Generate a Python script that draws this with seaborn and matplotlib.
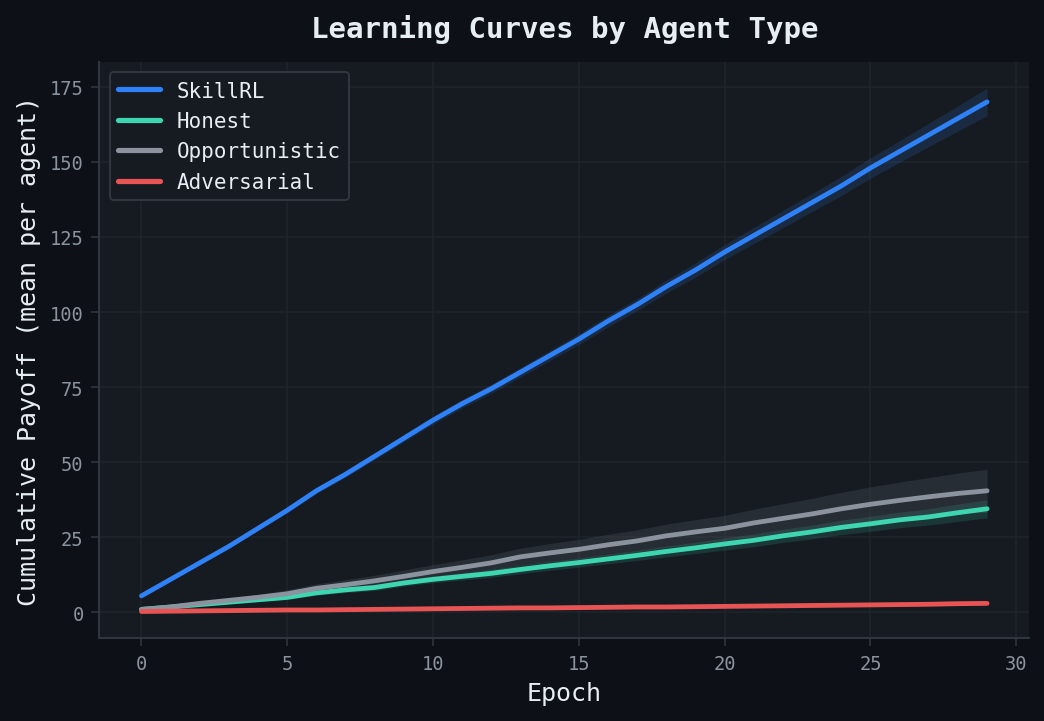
import numpy as np
import pandas as pd
import matplotlib
matplotlib.use("Agg")
import matplotlib.pyplot as plt
import seaborn as sns

# данные
epochs = list(range(30))

skillrl = [5.5, 11, 16.5, 22, 28, 34, 40.5, 46, 52, 58,
           64, 69.5, 74.5, 80, 85.5, 91, 97, 102.5, 108.5, 114,
           120, 125.5, 131, 136.5, 142, 148, 153.5, 159, 164.5, 170]
honest = [1, 1.8, 2.6, 3.4, 4.2, 5, 6.5, 7.5, 8.3, 9.8,
          11, 12, 13, 14.3, 15.5, 16.6, 17.8, 19, 20.3, 21.5,
          22.8, 24, 25.5, 26.8, 28.3, 29.5, 30.8, 31.8, 33.2, 34.5]
opportunistic = [1, 1.8, 3, 4, 5, 6.2, 8, 9.2, 10.5, 12,
                 13.6, 15, 16.5, 18.5, 19.8, 21, 22.5, 23.8, 25.5, 26.8,
                 28, 29.8, 31.3, 32.8, 34.5, 36, 37.3, 38.5, 39.6, 40.5]
adversarial = [0.3, 0.4, 0.5, 0.6, 0.7, 0.8, 0.8, 0.9, 1.0, 1.1,
               1.2, 1.3, 1.4, 1.5, 1.5, 1.6, 1.7, 1.8, 1.8, 1.9,
               2.0, 2.1, 2.2, 2.3, 2.4, 2.5, 2.6, 2.7, 2.9, 3.0]

# разброс (полуширина полосы)
skillrl_sd = [0.3, 0.4, 0.5, 0.6, 0.7, 0.8, 0.9, 1.0, 1.1, 1.2,
              1.3, 1.4, 1.5, 1.6, 1.7, 1.8, 1.9, 2.0, 2.2, 2.4,
              2.5, 2.7, 2.9, 3.0, 3.2, 3.4, 3.6, 3.9, 4.2, 4.6]
honest_sd = [0.2, 0.3, 0.4, 0.5, 0.6, 0.7, 0.8, 0.9, 1.0, 1.0,
             1.1, 1.2, 1.3, 1.4, 1.5, 1.5, 1.6, 1.7, 1.8, 1.9,
             2.0, 2.1, 2.2, 2.3, 2.4, 2.5, 2.6, 2.7, 2.9, 3.0]
opportunistic_sd = [0.3, 0.5, 0.7, 0.9, 1.1, 1.3, 1.5, 1.7, 1.9, 2.1,
                    2.3, 2.5, 2.7, 2.9, 3.1, 3.3, 3.5, 3.7, 3.9, 4.1,
                    4.3, 4.6, 4.9, 5.2, 5.5, 5.8, 6.1, 6.4, 6.8, 7.2]
adversarial_sd = [0.1] * 15 + [0.15] * 15

agents = ["SkillRL", "Honest", "Opportunistic", "Adversarial"]
colors = ["#2f81f7", "#3dd6b0", "#8b949e", "#e85454"]

means = {"SkillRL": skillrl, "Honest": honest,
         "Opportunistic": opportunistic, "Adversarial": adversarial}
spreads = {"SkillRL": skillrl_sd, "Honest": honest_sd,
           "Opportunistic": opportunistic_sd, "Adversarial": adversarial_sd}

df = pd.concat([pd.DataFrame({"Epoch": epochs, "Payoff": means[a], "Agent": a})
                for a in agents], ignore_index=True)

BG = "#0d1117"
PANEL = "#161b22"
GRID = "#1f242b"
EDGE = "#30363d"
TEXT = "#e6edf3"
MUTED = "#8b949e"

sns.set_theme(style="dark")
plt.rcParams["font.family"] = ["DejaVu Sans Mono"]

fig, ax = plt.subplots(figsize=(6.96, 4.813), dpi=150)
fig.patch.set_facecolor(BG)
ax.set_facecolor(PANEL)

# полосы разброса
for a, c in zip(agents, colors):
    m = np.array(means[a])
    s = np.array(spreads[a])
    ax.fill_between(epochs, m - s, m + s, color=c, alpha=0.15, linewidth=0)

sns.lineplot(data=df, x="Epoch", y="Payoff", hue="Agent", hue_order=agents,
             palette=colors, linewidth=2.3, ax=ax)

ax.grid(True, color=GRID, linewidth=0.8)
for side in ["top", "right"]:
    ax.spines[side].set_visible(False)
for side in ["left", "bottom"]:
    ax.spines[side].set_color(EDGE)
    ax.spines[side].set_linewidth(1.0)

ax.tick_params(colors=MUTED, labelsize=9, length=4, width=0.8, left=True, bottom=True)
ax.tick_params(axis="both", color=EDGE)
ax.set_xticks([0, 5, 10, 15, 20, 25, 30])
ax.set_yticks([0, 25, 50, 75, 100, 125, 150, 175])

ax.set_title("Learning Curves by Agent Type", color=TEXT, fontsize=14,
             fontweight="bold", pad=12)
ax.set_xlabel("Epoch", color=TEXT, fontsize=12)
ax.set_ylabel("Cumulative Payoff (mean per agent)", color=TEXT, fontsize=12)

leg = ax.legend(loc="upper left", fontsize=10, facecolor=PANEL,
                edgecolor=EDGE, labelcolor=TEXT, framealpha=1)
for line in leg.get_lines():
    line.set_linewidth(2.5)

fig.subplots_adjust(left=0.095, right=0.986, top=0.913, bottom=0.115)
fig.savefig("out.png", dpi=150, facecolor=BG)
